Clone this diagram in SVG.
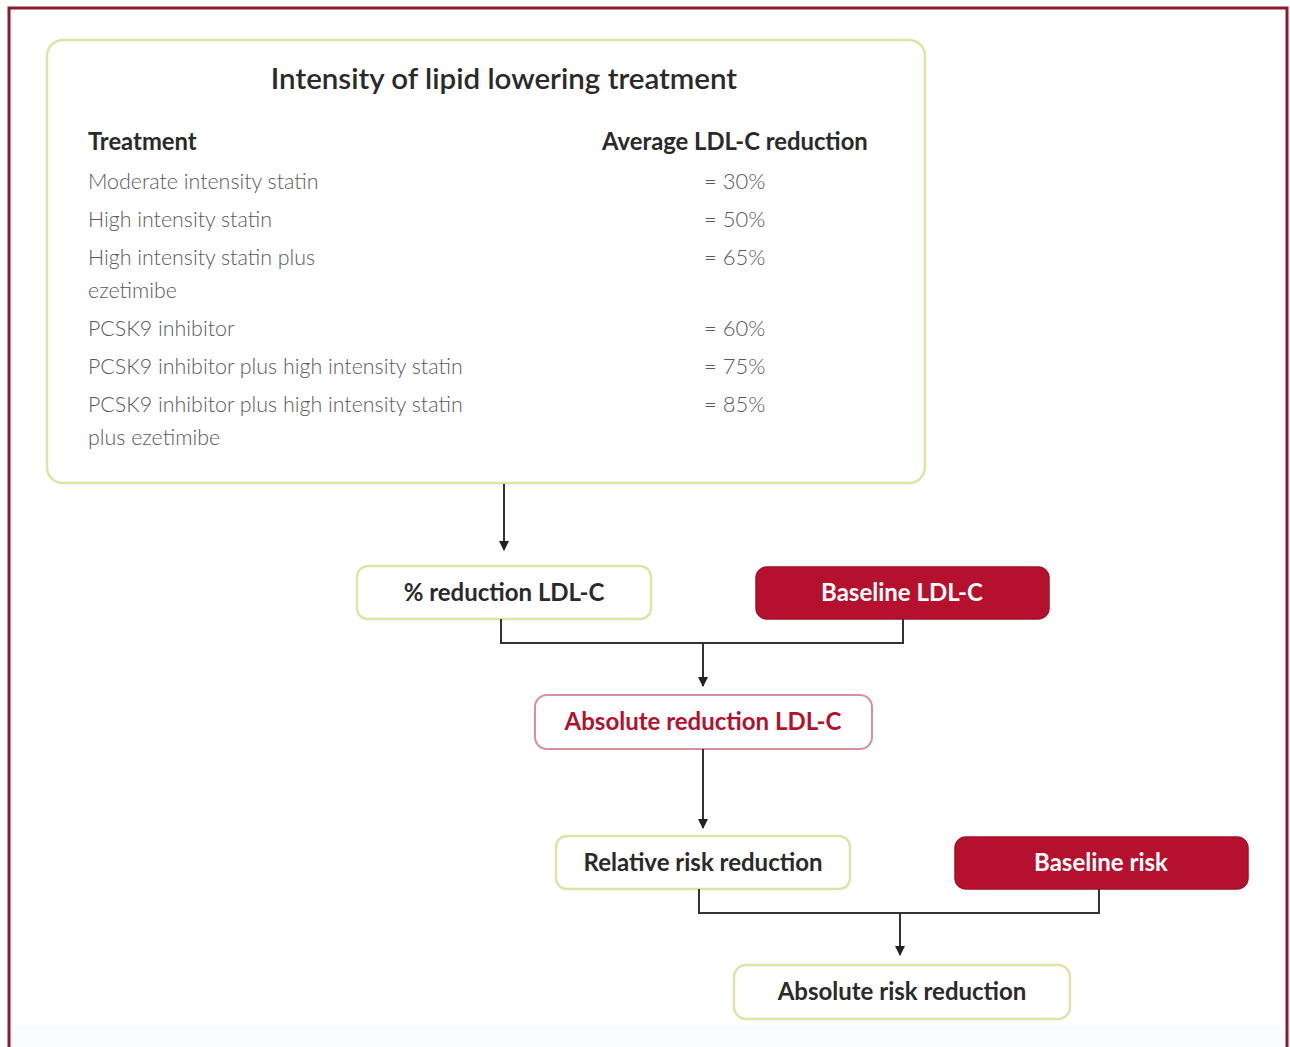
<svg xmlns="http://www.w3.org/2000/svg" width="1290" height="1047" viewBox="0 0 1290 1047">
<defs>
<style>
text{font-family:Lato,"Open Sans","DejaVu Sans",sans-serif}
.title{font-size:29.5px;font-weight:600;fill:#2a2a2a}
.hdr{font-size:23.8px;font-weight:700;fill:#2a2a2a}
.row{font-size:21.4px;font-weight:300;fill:#5a5a5a}
.val{font-size:22px;font-weight:300;fill:#5a5a5a}
.lbl{font-size:24px;font-weight:700;fill:#2a2a2a}
.wlbl{font-size:24px;font-weight:700;fill:#ffffff}
.rlbl{font-size:24px;font-weight:700;fill:#b3122f}
.ybox{fill:#ffffff;stroke:#dfe4a6;stroke-width:2.5}
.rbox{fill:#b5112e;stroke:#a50f2a;stroke-width:1.5}
.pbox{fill:#ffffff;stroke:#d9909e;stroke-width:2}
.conn{fill:none;stroke:#333333;stroke-width:2}
</style>
<marker id="arr" viewBox="0 0 10 10" refX="9" refY="5" markerWidth="11" markerHeight="10" markerUnits="userSpaceOnUse" orient="auto">
<path d="M0,0 L10,5 L0,10 z" fill="#222222"/>
</marker>
</defs>
<rect x="0" y="0" width="1290" height="1047" fill="#ffffff"/>
<rect x="10" y="1025" width="1276" height="22" fill="#f9fcfc"/>
<path d="M9,1050 L9,8 L1287,8 L1287,1050" fill="none" stroke="#8c1a32" stroke-width="3"/>

<g id="treatment-box">
<rect class="ybox" x="47" y="40" width="878" height="443" rx="16"/>
<text class="title" x="504" y="89" text-anchor="middle">Intensity of lipid lowering treatment</text>
<text class="hdr" x="88" y="150">Treatment</text>
<text class="hdr" x="602" y="150">Average LDL-C reduction</text>
<text class="row" x="88" y="189">Moderate intensity statin</text>
<text class="row" x="88" y="227">High intensity statin</text>
<text class="row" x="88" y="265">High intensity statin plus</text>
<text class="row" x="88" y="298">ezetimibe</text>
<text class="row" x="88" y="336">PCSK9 inhibitor</text>
<text class="row" x="88" y="374">PCSK9 inhibitor plus high intensity statin</text>
<text class="row" x="88" y="412">PCSK9 inhibitor plus high intensity statin</text>
<text class="row" x="88" y="445">plus ezetimibe</text>
<text class="val" x="704" y="189">= 30%</text>
<text class="val" x="704" y="227">= 50%</text>
<text class="val" x="704" y="265">= 65%</text>
<text class="val" x="704" y="336">= 60%</text>
<text class="val" x="704" y="374">= 75%</text>
<text class="val" x="704" y="412">= 85%</text>
</g>

<g id="pct-reduction">
<rect class="ybox" x="357" y="566" width="294" height="53" rx="11"/>
<text class="lbl" x="504" y="601" text-anchor="middle">% reduction LDL-C</text>
</g>
<g id="baseline-ldl">
<rect class="rbox" x="756" y="567" width="293" height="52" rx="11"/>
<text class="wlbl" x="902" y="601" text-anchor="middle">Baseline LDL-C</text>
</g>
<g id="absolute-ldl">
<rect class="pbox" x="535" y="695" width="337" height="54" rx="12"/>
<text class="rlbl" x="703" y="730" text-anchor="middle">Absolute reduction LDL-C</text>
</g>
<g id="relative-risk">
<rect class="ybox" x="556" y="836" width="294" height="53" rx="11"/>
<text class="lbl" x="703" y="871" text-anchor="middle">Relative risk reduction</text>
</g>
<g id="baseline-risk">
<rect class="rbox" x="955" y="837" width="293" height="52" rx="11"/>
<text class="wlbl" x="1101" y="871" text-anchor="middle">Baseline risk</text>
</g>
<g id="absolute-risk">
<rect class="ybox" x="734" y="965" width="336" height="54" rx="12"/>
<text class="lbl" x="902" y="1000" text-anchor="middle">Absolute risk reduction</text>
</g>

<g id="connectors">
<line class="conn" x1="504" y1="484" x2="504" y2="550" marker-end="url(#arr)"/>
<path class="conn" d="M501,619 L501,643 L903,643 L903,619"/>
<line class="conn" x1="703" y1="643" x2="703" y2="686" marker-end="url(#arr)"/>
<line class="conn" x1="703" y1="749" x2="703" y2="828" marker-end="url(#arr)"/>
<path class="conn" d="M699,889 L699,913 L1099,913 L1099,889"/>
<line class="conn" x1="900" y1="913" x2="900" y2="955" marker-end="url(#arr)"/>
</g>
</svg>
